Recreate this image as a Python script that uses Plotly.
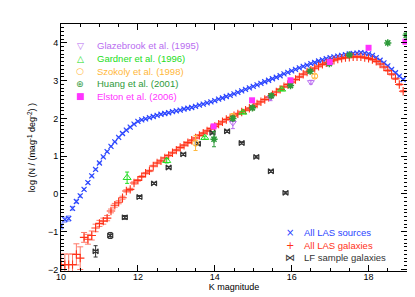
import plotly.graph_objects as go

# ---------------- data ----------------
k_bins = [round(10.0 + 0.1 * i, 1) for i in range(90)]

las_sources = [
    -0.85, -0.68, -0.65, -0.38, -0.20, -0.05, 0.12, 0.30, 0.48, 0.65,
    0.82, 0.98, 1.12, 1.26, 1.38, 1.50, 1.60, 1.69, 1.77, 1.85,
    1.92, 1.96, 1.99, 2.02, 2.05, 2.08, 2.11, 2.13, 2.15, 2.18,
    2.20, 2.22, 2.25, 2.27, 2.29, 2.32, 2.35, 2.38, 2.41, 2.44,
    2.47, 2.51, 2.54, 2.58, 2.61, 2.65, 2.69, 2.73, 2.77, 2.81,
    2.85, 2.89, 2.93, 2.97, 3.01, 3.05, 3.09, 3.13, 3.18, 3.22,
    3.26, 3.30, 3.34, 3.38, 3.41, 3.45, 3.48, 3.52, 3.55, 3.58,
    3.61, 3.63, 3.65, 3.67, 3.69, 3.71, 3.72, 3.73, 3.74, 3.73,
    3.71, 3.67, 3.61, 3.54, 3.47, 3.39, 3.30, 3.21, 3.12, 3.03,
]
las_sources_err = [
    0.08, 0.07, 0.07, 0.05, 0.04, 0.04, 0.03, 0.03, 0.03, 0.02,
] + [0.02] * 80

las_galaxies = [
    -1.87, -1.87, -1.87, -1.87, -1.60, -1.70, -1.15, -1.20, -1.10, -0.90,
    -0.78, -0.72, -0.64, -0.45, -0.30, -0.22, -0.10, 0.08, 0.12, 0.29,
    0.36, 0.46, 0.55, 0.61, 0.74, 0.82, 0.88, 0.95, 1.02, 1.09,
    1.16, 1.23, 1.29, 1.36, 1.42, 1.48, 1.55, 1.61, 1.67, 1.73,
    1.79, 1.85, 1.91, 1.97, 2.02, 2.07, 2.12, 2.17, 2.22, 2.27,
    2.32, 2.38, 2.44, 2.50, 2.56, 2.63, 2.70, 2.77, 2.84, 2.90,
    2.96, 3.03, 3.10, 3.17, 3.23, 3.28, 3.33, 3.38, 3.43, 3.47,
    3.51, 3.54, 3.57, 3.59, 3.61, 3.62, 3.63, 3.63, 3.63, 3.61,
    3.59, 3.56, 3.51, 3.44, 3.36, 3.27, 3.17, 3.05, 2.90, 2.72,
]
las_galaxies_err = [
    0.28, 0.28, 0.28, 0.28, 0.28, 0.30, 0.13, 0.13, 0.12, 0.10,
    0.08, 0.08, 0.07, 0.05, 0.05, 0.04, 0.04, 0.03, 0.03, 0.03,
] + [0.02] * 70

lf_k = [10.90, 11.28, 11.66, 12.04, 12.42, 12.80, 13.18, 13.56, 13.94, 14.32, 14.70, 15.08, 15.46, 15.84]
lf_n = [-1.52, -1.10, -0.62, -0.08, 0.28, 0.70, 1.05, 1.33, 1.62, 1.66, 1.35, 0.98, 0.60, 0.03]
lf_err = [0.15, 0.08, 0.05, 0.04, 0.03, 0.03, 0.03, 0.03, 0.03, 0.03, 0.03, 0.03, 0.03, 0.03]

glazebrook_k = [14.47, 15.45, 16.50]
glazebrook_n = [1.88, 2.55, 2.96]
glazebrook_err = [0.15, 0.08, 0.05]

gardner_k = [11.72, 12.75, 13.74, 14.73, 15.74]
gardner_n = [0.43, 0.88, 1.49, 2.16, 2.77]
gardner_err = [0.15, 0.06, 0.04, 0.03, 0.03]

szokoly_k = [13.50, 14.47, 16.60]
szokoly_n = [1.35, 2.05, 3.12]
szokoly_err = [0.20, 0.08, 0.05]

huang_k = [13.98, 14.47, 14.98, 15.47, 15.97, 16.48, 16.98, 17.50, 18.50, 18.98]
huang_n = [1.45, 2.00, 2.28, 2.60, 2.87, 3.25, 3.45, 3.68, 4.00, 4.20]
huang_err = [0.20, 0.06, 0.05, 0.05, 0.04, 0.04, 0.04, 0.04, 0.04, 0.04]

elston_k = [13.97, 14.97, 15.97, 16.99, 18.00, 18.96]
elston_n = [1.79, 2.48, 3.01, 3.49, 3.87, 4.03]

x_ticks = [10, 12, 14, 16, 18]
y_ticks = [-2, -1, 0, 1, 2, 3, 4]

lit_labels = ["Glazebrook et al. (1995)", "Gardner et al. (1996)", "Szokoly et al. (1998)",
              "Huang et al. (2001)", "Elston et al. (2006)"]
lit_keys = ["▽", "△", "○", "⊛", "■"]
las_labels = ["All LAS sources", "All LAS galaxies", "LF sample galaxies"]
las_keys = ["×", "+", "⋈"]

# ---------------- figure ----------------
FONT = "Liberation Sans"
BLUE = "#2a44ff"
RED = "#ff3218"
BLACK = "#333333"
VIOLET = "#b86cf0"
GREEN = "#22dd22"
ORANGE = "#ffb73a"
DKGREEN = "#2e9a3a"
MAGENTA = "#ff33ff"
lit_colors = [VIOLET, GREEN, ORANGE, DKGREEN, MAGENTA]
las_colors = [BLUE, RED, BLACK]

fig = go.Figure()

fig.add_trace(go.Scatter(
    x=k_bins, y=las_sources, mode="markers", name=las_labels[0],
    marker=dict(symbol="x-thin", size=5, line=dict(color=BLUE, width=1.2), color=BLUE),
    error_y=dict(type="data", array=las_sources_err, color="#8fa0ff", thickness=1, width=2),
))
fig.add_trace(go.Scatter(
    x=k_bins, y=las_galaxies, mode="markers", name=las_labels[1],
    marker=dict(symbol="cross-thin", size=6, line=dict(color=RED, width=1.1), color=RED),
    error_y=dict(type="data", array=las_galaxies_err, color="#ff7a6a", thickness=1, width=3),
))
fig.add_trace(go.Scatter(
    x=lf_k, y=lf_n, mode="markers", name=las_labels[2],
    marker=dict(symbol="bowtie-open", size=5, line=dict(color=BLACK, width=1.2), color=BLACK),
    error_y=dict(type="data", array=lf_err, color=BLACK, thickness=1, width=2),
))

fig.add_trace(go.Scatter(
    x=glazebrook_k, y=glazebrook_n, mode="markers", name=lit_labels[0],
    marker=dict(symbol="triangle-down-open", size=6, color=VIOLET, line=dict(color=VIOLET, width=1)),
    error_y=dict(type="data", array=glazebrook_err, color=VIOLET, thickness=1, width=2),
))
fig.add_trace(go.Scatter(
    x=gardner_k, y=gardner_n, mode="markers", name=lit_labels[1],
    marker=dict(symbol="triangle-up-open", size=7, color=GREEN, line=dict(color=GREEN, width=1)),
    error_y=dict(type="data", array=gardner_err, color=GREEN, thickness=1, width=2),
))
fig.add_trace(go.Scatter(
    x=szokoly_k, y=szokoly_n, mode="markers", name=lit_labels[2],
    marker=dict(symbol="circle-open", size=6, color=ORANGE, line=dict(color=ORANGE, width=1)),
    error_y=dict(type="data", array=szokoly_err, color=ORANGE, thickness=1, width=2),
))
fig.add_trace(go.Scatter(
    x=huang_k, y=huang_n, mode="markers", name=lit_labels[3],
    marker=dict(symbol="asterisk-open", size=6, color=DKGREEN, line=dict(color=DKGREEN, width=1.5)),
    error_y=dict(type="data", array=huang_err, color=DKGREEN, thickness=1, width=2),
))
fig.add_trace(go.Scatter(
    x=elston_k, y=elston_n, mode="markers", name=lit_labels[4],
    marker=dict(symbol="square", size=6, color=MAGENTA),
))

axis_common = dict(
    showline=True, linecolor="black", linewidth=1, mirror="allticks",
    ticks="inside", ticklen=6, tickcolor="black", tickwidth=1,
    showgrid=False, zeroline=False,
    tickfont=dict(family=FONT, size=9, color="black"),
)

fig.update_xaxes(
    range=[10, 19], tickvals=x_ticks, ticklabelstandoff=-3,
    minor=dict(ticks="inside", ticklen=3, dtick=0.5, tick0=10, tickcolor="black", showgrid=False),
    title=dict(text="K magnitude", font=dict(family=FONT, size=9, color="black"), standoff=2),
    **axis_common,
)
fig.update_yaxes(
    range=[-2.04, 4.5], tickvals=y_ticks,
    minor=dict(ticks="inside", ticklen=3, dtick=0.1, tick0=0, tickcolor="black", showgrid=False),
    title=dict(text="log (N / (mag<sup>-1</sup> deg<sup>-2</sup>) )", font=dict(family=FONT, size=9, color="black"), standoff=10),
    **axis_common,
)

# legends drawn as text annotations (paper coordinates of the plot area)
def px_to_paper(xp, yp):
    return (xp - 53) / 346.0, (263 - yp) / 247.0

annotations = []
lit_rows = [37.5, 50.5, 63, 75.5, 88]
for lab, key, col, yp in zip(lit_labels, lit_keys, lit_colors, lit_rows):
    kx, ky = px_to_paper(72, yp)
    tx, _ = px_to_paper(87, yp)
    annotations.append(dict(x=kx, y=ky, xref="paper", yref="paper", text=key, showarrow=False,
                            xanchor="center", yanchor="middle",
                            font=dict(family="DejaVu Sans", size=9, color=col)))
    annotations.append(dict(x=tx, y=ky, xref="paper", yref="paper", text=lab, showarrow=False,
                            xanchor="left", yanchor="middle",
                            font=dict(family=FONT, size=9.5, color=col)))
las_rows = [224.5, 237, 249.5]
for lab, key, col, yp in zip(las_labels, las_keys, las_colors, las_rows):
    kx, ky = px_to_paper(282, yp)
    tx, _ = px_to_paper(294, yp)
    annotations.append(dict(x=kx, y=ky, xref="paper", yref="paper", text=key, showarrow=False,
                            xanchor="center", yanchor="middle",
                            font=dict(family="DejaVu Sans", size=10, color=col)))
    annotations.append(dict(x=tx, y=ky, xref="paper", yref="paper", text=lab, showarrow=False,
                            xanchor="left", yanchor="middle",
                            font=dict(family=FONT, size=9.5, color=col)))

fig.update_layout(
    width=415, height=297,
    margin=dict(l=53, r=16, t=16, b=34),
    paper_bgcolor="white", plot_bgcolor="white",
    showlegend=False,
    annotations=annotations,
)

fig.write_html("out.html")
